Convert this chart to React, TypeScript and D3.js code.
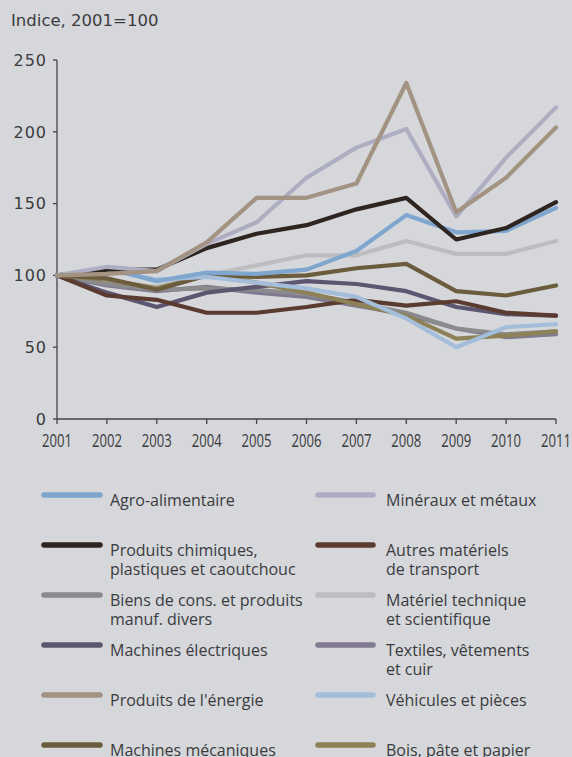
import React from "react";
import * as d3 from "d3";

const years = [2001, 2002, 2003, 2004, 2005, 2006, 2007, 2008, 2009, 2010, 2011];
const yTicks = [0, 50, 100, 150, 200, 250];

const agro = [100, 105, 96, 102, 101, 104, 117, 142, 130, 131, 147];
const chimiques = [100, 104, 104, 119, 129, 135, 146, 154, 125, 133, 151];
const biens = [100, 94, 90, 91, 90, 87, 81, 74, 63, 59, 61];
const machElec = [100, 88, 78, 88, 92, 96, 94, 89, 78, 73, 72];
const energie = [100, 101, 103, 123, 154, 154, 164, 234, 144, 168, 203];
const machMec = [100, 98, 90, 100, 99, 100, 105, 108, 89, 86, 93];
const mineraux = [100, 106, 103, 122, 137, 168, 189, 202, 141, 182, 217];
const autresTransport = [100, 86, 83, 74, 74, 78, 83, 79, 82, 74, 72];
const materielTech = [100, 96, 92, 100, 107, 114, 114, 124, 115, 115, 124];
const textiles = [100, 93, 89, 92, 88, 85, 79, 73, 63, 57, 59];
const vehicules = [100, 104, 97, 99, 95, 91, 85, 70, 50, 64, 66];
const bois = [100, 97, 91, 100, 95, 88, 80, 72, 56, 58, 61];

const seriesNames = [
  "Agro-alimentaire",
  "Minéraux et métaux",
  "Produits chimiques,\nplastiques et caoutchouc",
  "Autres matériels\nde transport",
  "Biens de cons. et produits\nmanuf. divers",
  "Matériel technique\net scientifique",
  "Machines électriques",
  "Textiles, vêtements\net cuir",
  "Produits de l'énergie",
  "Véhicules et pièces",
  "Machines mécaniques",
  "Bois, pâte et papier",
];
const seriesValues = [agro, mineraux, chimiques, autresTransport, biens, materielTech, machElec, textiles, energie, vehicules, machMec, bois];
const seriesColors = [
  "#7ea6cf", "#aeadc2", "#2e2420", "#5b3b30", "#8b8a8c", "#bdbdbf",
  "#5c5670", "#817a90", "#a39382", "#a3bddb", "#6c5c3e", "#8d8158",
];
// drawing order (back to front)
const drawOrder = [5, 7, 4, 6, 3, 11, 10, 9, 0, 2, 1, 8];

const W = 572;
const H = 757;
const M = { left: 57, right: 16, top: 60, bottom: 338 };

export default function App() {
  const x = d3.scaleLinear().domain([2001, 2011]).range([M.left, W - M.right]);
  const y = d3.scaleLinear().domain([0, 250]).range([H - M.bottom, M.top]);
  const line = d3
    .line<number>()
    .x((_, i) => x(years[i]))
    .y((d) => y(d));

  const textColor = "#3b3b3d";
  const font = "'Open Sans', sans-serif";
  const wideFont = "'DejaVu Sans', sans-serif";

  return (
    <svg
      width={W}
      height={H}
      style={{ position: "absolute", left: 0, top: 0, background: "#d5d7db" }}
    >
      <rect x={0} y={0} width={W} height={H} fill="#d5d7db" />
      <text x={11} y={26} fontFamily={wideFont} fontSize={16.5} fill={textColor}>
        Indice, 2001=100
      </text>

      {/* y axis */}
      <line x1={M.left} x2={M.left} y1={y(250)} y2={y(0)} stroke="#444" strokeWidth={1.3} />
      {yTicks.map((t) => (
        <g key={t}>
          <line x1={M.left - 4} x2={M.left} y1={y(t)} y2={y(t)} stroke="#444" strokeWidth={1.3} />
          <text
            x={47}
            y={y(t)}
            dy="0.36em"
            textAnchor="end"
            fontFamily={wideFont}
            fontSize={16}
            letterSpacing={1}
            fill={textColor}
          >
            {t}
          </text>
        </g>
      ))}

      {/* x axis */}
      <line x1={M.left} x2={x(2011)} y1={y(0)} y2={y(0)} stroke="#444" strokeWidth={1.3} />
      {years.map((yr) => (
        <g key={yr}>
          <line x1={x(yr)} x2={x(yr)} y1={y(0)} y2={y(0) + 5} stroke="#444" strokeWidth={1.3} />
          <text
            x={x(yr)}
            y={447}
            textAnchor="middle"
            fontFamily={font}
            fontSize={18.5}
            textLength={30}
            lengthAdjust="spacingAndGlyphs"
            fill={textColor}
          >
            {yr}
          </text>
        </g>
      ))}

      {/* lines */}
      {drawOrder.map((i) => (
        <path
          key={i}
          d={line(seriesValues[i]) || ""}
          fill="none"
          stroke={seriesColors[i]}
          strokeWidth={4.2}
          strokeLinejoin="round"
          strokeLinecap="round"
        />
      ))}

      {/* legend */}
      {seriesNames.map((name, i) => {
        const col = i % 2;
        const row = Math.floor(i / 2);
        const sy = 495 + row * 50;
        const sx1 = col === 0 ? 44 : 318;
        const sx2 = col === 0 ? 100 : 373;
        const tx = col === 0 ? 110 : 386;
        const lines = name.split("\n");
        return (
          <g key={name}>
            <line
              x1={sx1}
              x2={sx2}
              y1={sy}
              y2={sy}
              stroke={seriesColors[i]}
              strokeWidth={5.5}
              strokeLinecap="round"
            />
            <text x={tx} y={sy + 11} fontFamily={font} fontSize={16} fill={textColor}>
              {lines.map((l, k) => (
                <tspan key={k} x={tx} dy={k === 0 ? 0 : 19}>
                  {l}
                </tspan>
              ))}
            </text>
          </g>
        );
      })}
    </svg>
  );
}
